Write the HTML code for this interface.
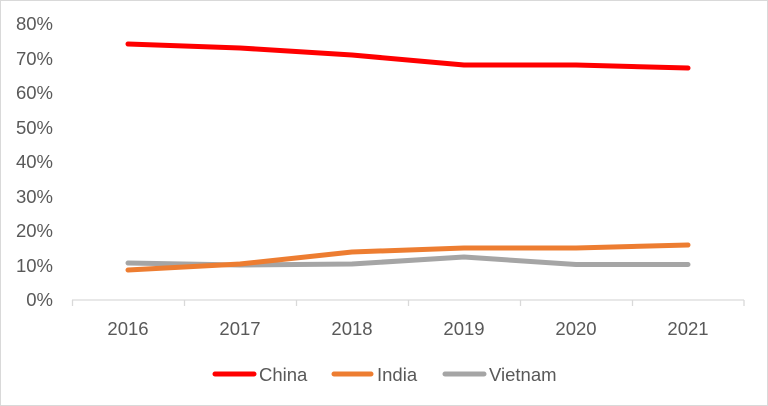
<!DOCTYPE html>
<html><head><meta charset="utf-8"><style>body{margin:0;background:#fff}svg{display:block}</style></head><body>
<svg width="768" height="406" viewBox="0 0 768 406" xmlns="http://www.w3.org/2000/svg" font-family="Liberation Sans, sans-serif" fill="#595959">
<rect x="0.5" y="0.5" width="767" height="405" fill="#fff" stroke="#d9d9d9"/>
<g font-size="18.5" text-anchor="end">
<text x="53" y="306">0%</text><text x="53" y="272">10%</text><text x="53" y="237">20%</text><text x="53" y="203">30%</text><text x="53" y="168">40%</text><text x="53" y="134">50%</text><text x="53" y="99">60%</text><text x="53" y="65">70%</text><text x="53" y="30">80%</text>
</g>
<g stroke="#d9d9d9" stroke-width="1.3">
<line x1="72" y1="300" x2="744" y2="300"/>
<line x1="72.5" y1="300" x2="72.5" y2="306"/><line x1="184.5" y1="300" x2="184.5" y2="306"/><line x1="296.5" y1="300" x2="296.5" y2="306"/><line x1="408.5" y1="300" x2="408.5" y2="306"/><line x1="520.5" y1="300" x2="520.5" y2="306"/><line x1="632.5" y1="300" x2="632.5" y2="306"/><line x1="744" y1="300" x2="744" y2="306"/>
</g>
<g font-size="18.5" text-anchor="middle">
<text x="128" y="335">2016</text><text x="240" y="335">2017</text><text x="352" y="335">2018</text><text x="464" y="335">2019</text><text x="576" y="335">2020</text><text x="688" y="335">2021</text>
</g>
<g fill="none" stroke-width="5" stroke-linejoin="round" stroke-linecap="round">
<polyline stroke="#a5a5a5" points="128,263 240,265 352,264 464,257 576,264.5 688,264.5"/>
<polyline stroke="#ed7d31" points="128,270 240,264 352,252 464,248 576,248 688,245"/>
<polyline stroke="#ff0000" points="128,44 240,48 352,55 464,65 576,65 688,68"/>
</g>
<g stroke-width="5" stroke-linecap="round">
<line x1="215" y1="374" x2="254" y2="374" stroke="#ff0000"/>
<line x1="334" y1="374" x2="371" y2="374" stroke="#ed7d31"/>
<line x1="445" y1="374" x2="484" y2="374" stroke="#a5a5a5"/>
</g>
<g font-size="18.5">
<text x="259" y="381">China</text><text x="377" y="381">India</text><text x="489" y="381">Vietnam</text>
</g>
</svg>
</body></html>
